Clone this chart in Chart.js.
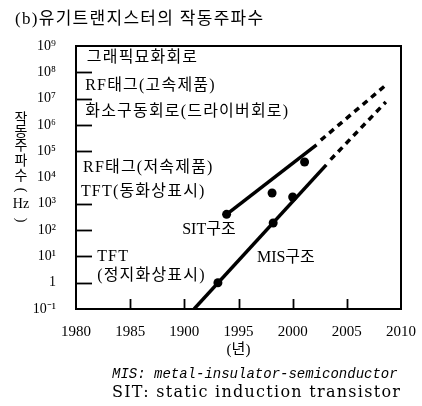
<!DOCTYPE html>
<html>
<head>
<meta charset="utf-8">
<script src="https://cdn.jsdelivr.net/npm/chart.js@4"></script>
<style>
html, body { margin: 0; padding: 0; background: #fff; }
</style>
</head>
<body>
<canvas id="freqChart" width="422" height="406"></canvas>
<script>
// === Trục ===
const xTickValues = [1980, 1985, 1990, 1995, 2000, 2005, 2010];
const xTickLabels = ['1980', '1985', '1900', '1995', '2000', '2005', '2010'];
const yTickLabels = ['10⁻¹', '1', '10¹', '10²', '10³', '10⁴', '10⁵', '10⁶', '10⁷', '10⁸', '10⁹']; // số mũ -1..9
const yMarkLevels = [0, 1, 2, 3, 5, 6, 7, 8];
const xMarkYears = [1985, 1990, 1995, 2000, 2005];

// === SIT (số mũ log10 Hz) ===
const sitSolidYears = [1993.9, 2002.2];
const sitSolidExp = [2.6, 5.24];
const sitDashYears = [2002.6, 2008.5];
const sitDashExp = [5.42, 7.48];
const sitPointYears = [1993.9, 1998.1, 2001.1];
const sitPointExp = [2.6, 3.41, 4.59];

// === MIS ===
const misSolidYears = [1990.9, 2003.1];
const misSolidExp = [-1, 4.48];
const misDashYears = [2003.5, 2008.6];
const misDashExp = [4.68, 6.87];
const misPointYears = [1993.1, 1998.2, 2000.0];
const misPointExp = [0, 2.27, 3.26];

// === Nhãn ứng dụng ===
const appLabels = ['그래픽묘화회로', 'RF태그(고속제품)', '화소구동회로(드라이버회로)', 'RF태그(저속제품)', 'TFT(동화상표시)', 'TFT', '(정지화상표시)'];
const appYears = [1981.0, 1980.85, 1980.85, 1980.65, 1980.45, 1981.95, 1981.95];
const appExp = [8.54, 7.48, 6.49, 4.36, 3.45, 0.98, 0.25];

const structLabels = ['SIT구조', 'MIS구조'];
const structYears = [1989.8, 1996.7];
const structExp = [2.0, 0.94];

const titleText = '(b)유기트랜지스터의 작동주파수';
const yTitleChars = ['작', '동', '주', '파', '수', '(', 'Hz', ')'];
const xTitleText = '(년)';
const notes = ['MIS: metal-insulator-semiconductor', 'SIT: static induction transistor'];

const SERIF = "'Liberation Serif', 'Noto Sans CJK KR', serif";
const KR = "'Liberation Serif', 'Noto Sans CJK KR', sans-serif";

const toPoints = (xs, ys) => xs.map((x, i) => ({ x, y: ys[i] }));

function lineSet(xs, ys, dash) {
    return {
        data: toPoints(xs, ys),
        showLine: true,
        borderColor: '#000',
        borderWidth: 3.5,
        borderDash: dash || [],
        pointRadius: 0
    };
}

function dotSet(xs, ys) {
    return {
        data: toPoints(xs, ys),
        showLine: false,
        pointRadius: 4.5,
        pointBackgroundColor: '#000',
        pointBorderWidth: 0
    };
}

// Vẽ khung, vạch trong, chữ chú thích
const decorPlugin = {
    id: 'decor',
    afterDraw(chart) {
        const { ctx, chartArea: a, scales: { x, y } } = chart;
        ctx.save();
        ctx.strokeStyle = '#000';
        ctx.fillStyle = '#000';

        ctx.lineWidth = 2;
        ctx.strokeRect(a.left, a.top, a.right - a.left, a.bottom - a.top);

        ctx.lineWidth = 1.8;
        yMarkLevels.forEach(v => {
            const py = Math.round(y.getPixelForValue(v)) + 0.5;
            ctx.beginPath();
            ctx.moveTo(a.left, py);
            ctx.lineTo(a.left + 16, py);
            ctx.stroke();
        });
        xMarkYears.forEach(v => {
            const px = Math.round(x.getPixelForValue(v)) + 0.5;
            ctx.beginPath();
            ctx.moveTo(px, a.bottom);
            ctx.lineTo(px, a.bottom - 10);
            ctx.stroke();
        });

        ctx.textBaseline = 'middle';
        ctx.textAlign = 'left';
        ctx.font = '16px ' + KR;
        ctx.letterSpacing = '1.2px';
        appLabels.forEach((t, i) => {
            ctx.fillText(t, x.getPixelForValue(appYears[i]), y.getPixelForValue(appExp[i]));
        });
        ctx.letterSpacing = '0px';
        structLabels.forEach((t, i) => {
            ctx.fillText(t, x.getPixelForValue(structYears[i]), y.getPixelForValue(structExp[i]));
        });

        // Tiêu đề
        ctx.font = '17px ' + KR;
        ctx.letterSpacing = '1.3px';
        ctx.fillText(titleText, 15, 20);
        ctx.letterSpacing = '0px';

        // Tiêu đề trục y (chữ dọc)
        ctx.textAlign = 'center';
        ctx.font = '14px ' + KR;
        const yPos = [119, 132, 146, 161, 176, 190, 204, 220];
        yTitleChars.forEach((c, i) => {
            if (c === '(' || c === ')') {
                ctx.save();
                ctx.translate(21, yPos[i]);
                ctx.rotate(Math.PI / 2);
                ctx.fillText(c, 0, 0);
                ctx.restore();
            } else {
                ctx.fillText(c, 21, yPos[i]);
            }
        });

        // Tiêu đề trục x
        ctx.font = '15px ' + KR;
        ctx.fillText(xTitleText, (a.left + a.right) / 2, 350);

        // Ghi chú
        ctx.textAlign = 'left';
        ctx.font = "italic 14px 'Liberation Mono', monospace";
        ctx.fillText(notes[0], 112, 374);
        ctx.font = "16px 'DejaVu Serif', serif";
        const w = ctx.measureText(notes[1]).width;
        ctx.letterSpacing = ((288 - w) / (notes[1].length - 1)) + 'px';
        ctx.fillText(notes[1], 112, 393);
        ctx.restore();
    }
};

new Chart(document.getElementById('freqChart').getContext('2d'), {
    type: 'scatter',
    data: {
        datasets: [
            lineSet(sitSolidYears, sitSolidExp),
            lineSet(sitDashYears, sitDashExp, [6, 5]),
            lineSet(misSolidYears, misSolidExp),
            lineSet(misDashYears, misDashExp, [6, 5]),
            dotSet(sitPointYears, sitPointExp),
            dotSet(misPointYears, misPointExp)
        ]
    },
    options: {
        responsive: false,
        animation: false,
        layout: { padding: { top: 46, right: 19, left: 0, bottom: 0 } },
        plugins: {
            legend: { display: false },
            tooltip: { enabled: false }
        },
        scales: {
            x: {
                type: 'linear',
                min: 1980,
                max: 2010,
                afterFit(s) { s.height = 97; },
                afterBuildTicks(s) { s.ticks = xTickValues.map(v => ({ value: v })); },
                grid: { display: false },
                border: { display: false },
                ticks: {
                    autoSkip: false,
                    maxRotation: 0,
                    padding: 6,
                    color: '#000',
                    font: { family: SERIF, size: 15 },
                    callback: v => xTickLabels[xTickValues.indexOf(v)]
                }
            },
            y: {
                min: -1,
                max: 9,
                afterFit(s) { s.width = 76; },
                grid: { display: false },
                border: { display: false },
                ticks: {
                    stepSize: 1,
                    padding: 12,
                    color: '#000',
                    font: { family: SERIF, size: 14 },
                    callback: v => yTickLabels[v + 1]
                }
            }
        }
    },
    plugins: [decorPlugin]
});
</script>
</body>
</html>
